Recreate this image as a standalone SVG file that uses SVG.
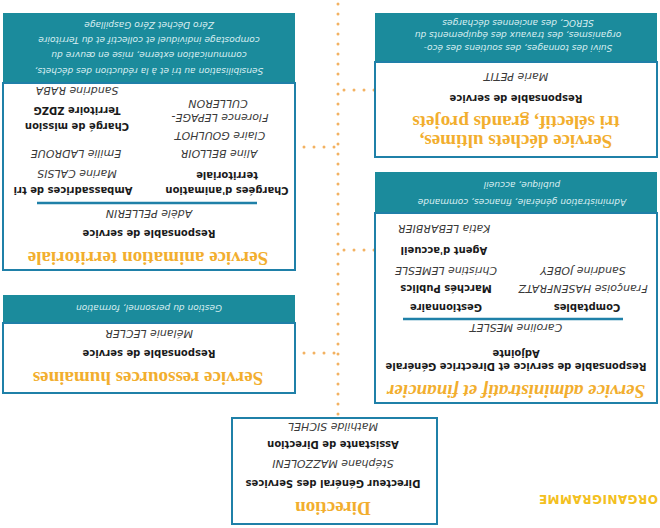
<svg xmlns="http://www.w3.org/2000/svg" width="660" height="528" viewBox="0 0 660 528">
<style>
.box{fill:#fff;stroke:#1f80a8;stroke-width:2}
.bar{fill:#1b8b9c}
.title{font-family:"Liberation Serif",serif;font-weight:bold;font-size:19px;fill:#f2ae2e;text-anchor:middle}
.b{font-family:"DejaVu Sans",sans-serif;font-weight:bold;font-size:10px;fill:#1a1a1a;text-anchor:middle}
.n{font-family:"DejaVu Sans",sans-serif;font-style:italic;font-size:11px;fill:#3a3a3a;text-anchor:middle}
.w{font-family:"DejaVu Sans",sans-serif;font-style:italic;font-size:9px;fill:#d9eef1;text-anchor:middle}
.sep{stroke:#1f80a8;stroke-width:2.5}
.dot{stroke:#f3b262;stroke-width:3;stroke-dasharray:0 10;stroke-linecap:round;fill:none}
</style>
<rect width="660" height="528" fill="#fff"/>
<g transform="rotate(180 330 264)">
<text x="2" y="33" font-family="DejaVu Sans, sans-serif" font-weight="bold" font-size="12" letter-spacing="0.5" fill="#f3c020">ORGANIGRAMME</text>
<g id="connectors">
<line class="dot" x1="322" y1="114" x2="322" y2="526"/>
<line class="dot" x1="326" y1="175" x2="364" y2="175"/>
<line class="dot" x1="286" y1="278" x2="318" y2="278"/>
<line class="dot" x1="326" y1="381" x2="364" y2="381"/>
<line class="dot" x1="286" y1="438" x2="318" y2="438"/>
</g>
<g id="direction">
<rect class="box" x="223" y="4" width="205" height="106"/>
<text class="title" x="327" y="26" font-size="15">Direction</text>
<text class="b" x="327" y="48">Directeur Général des Services</text>
<text class="n" x="327" y="68">Stéphane MAZZOLENI</text>
<text class="b" x="327" y="87">Assistante de Direction</text>
<text class="n" x="327" y="105">Mathilde SICHEL</text>
</g>
<g id="admin">
<rect class="bar" x="3" y="315" width="282" height="41"/>
<rect class="box" x="3" y="125" width="282" height="190"/>
<text class="title" x="144" y="143" font-style="italic" fill="#f3a03c">Service administratif et financier</text>
<text class="b" x="144" y="165">Responsable de service et Directrice Générale</text>
<text class="b" x="144" y="178">Adjointe</text>
<text class="n" x="144" y="204">Caroline MESLET</text>
<line class="sep" x1="37" y1="209" x2="257" y2="209"/>
<text class="b" x="73" y="224">Comptables</text>
<text class="n" x="77" y="243">Françoise HASENFRATZ</text>
<text class="n" x="77" y="261">Sandrine JOBEY</text>
<text class="b" x="214" y="224">Gestionnaire</text>
<text class="b" x="214" y="243">Marchés Publics</text>
<text class="n" x="214" y="261">Christine LEMESLE</text>
<text class="b" x="216" y="281">Agent d'accueil</text>
<text class="n" x="216" y="303">Katia LEBARBIER</text>
<text class="w" x="138" y="329">Administration générale, finances, commande</text>
<text class="w" x="138" y="346">publique, accueil</text>
</g>
<g id="dechets">
<rect class="bar" x="3" y="466" width="282" height="49"/>
<rect class="box" x="3" y="371" width="282" height="95"/>
<text class="title" x="144" y="393">Service déchets ultimes,</text>
<text class="title" x="144" y="412">tri sélectif, grands projets</text>
<text class="b" x="144" y="433">Responsable de service</text>
<text class="n" x="144" y="455">Marie PETIT</text>
<text class="w" x="142" y="483">Suivi des tonnages, des soutiens des éco-</text>
<text class="w" x="142" y="496">organismes, des travaux des équipements du</text>
<text class="w" x="142" y="508">SEROC, des anciennes décharges</text>
</g>
<g id="rh">
<rect class="bar" x="365" y="205" width="292" height="28"/>
<rect class="box" x="365" y="135" width="292" height="70"/>
<text class="title" x="512" y="156">Service ressources humaines</text>
<text class="b" x="511" y="178">Responsable de service</text>
<text class="n" x="511" y="198">Mélanie LECLER</text>
<text class="w" x="511" y="223" font-size="10">Gestion du personnel, formation</text>
</g>
<g id="animation">
<rect class="bar" x="365" y="445" width="292" height="70"/>
<rect class="box" x="365" y="258" width="292" height="187"/>
<text class="title" x="512" y="276">Service animation territoriale</text>
<text class="b" x="511" y="298">Responsable de service</text>
<text class="n" x="511" y="318">Adèle PELLERIN</text>
<line class="sep" x1="403" y1="325" x2="623" y2="325"/>
<text class="b" x="433" y="341">Chargées d'animation</text>
<text class="b" x="433" y="356">territoriale</text>
<text class="n" x="441" y="378">Aline BELLOIR</text>
<text class="n" x="440" y="396">Claire GOULHOT</text>
<text class="n" x="440" y="414">Florence LEPAGE-</text>
<text class="n" x="442" y="428">CULLERON</text>
<text class="b" x="587" y="341">Ambassadrices de tri</text>
<text class="n" x="583" y="358">Marine CALSIS</text>
<text class="n" x="584" y="378">Emilie LADROUE</text>
<text class="b" x="583" y="405">Chargé de mission</text>
<text class="b" x="583" y="421">Territoire ZDZG</text>
<text class="n" x="583" y="441" fill="#888">Sandrine RABA</text>
<text class="w" x="511" y="460" font-size="10">Sensibilisation au tri et à la réduction des déchets,</text>
<text class="w" x="511" y="476" font-size="10">communication externe, mise en œuvre du</text>
<text class="w" x="511" y="491" font-size="10">compostage individuel et collectif et du Territoire</text>
<text class="w" x="511" y="506" font-size="10">Zéro Déchet Zéro Gaspillage</text>
</g>
</g>
</svg>
